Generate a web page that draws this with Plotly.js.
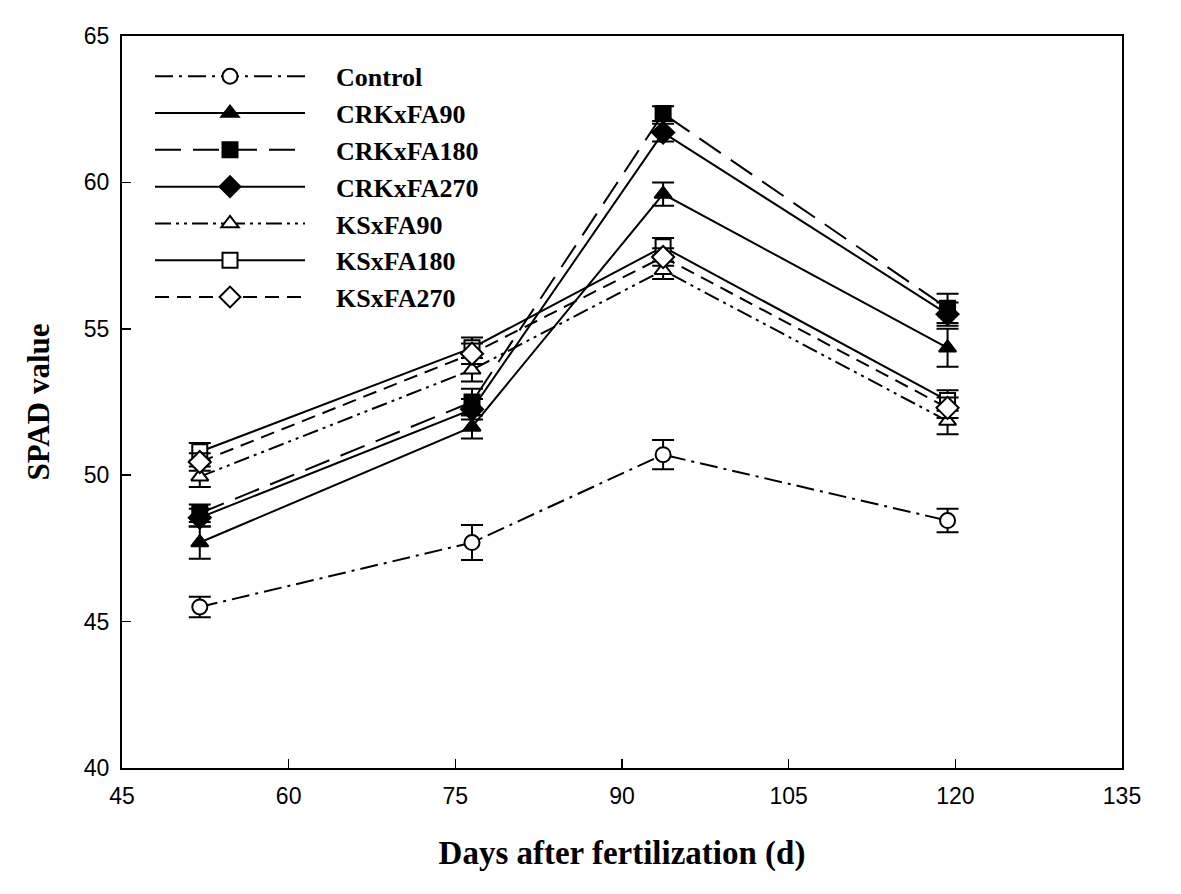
<!DOCTYPE html>
<html>
<head>
<meta charset="utf-8">
<script src="https://cdn.plot.ly/plotly-3.0.1.min.js"></script>
<style>html,body{margin:0;padding:0;background:#fff;}#chart{width:1181px;height:894px;}</style>
</head>
<body>
<div id="chart"></div>
<script>
// Days after fertilization (sampling dates)
const days = [52, 76.5, 93.7, 119.3];

const seriesNames = ["Control", "CRKxFA90", "CRKxFA180", "CRKxFA270", "KSxFA90", "KSxFA180", "KSxFA270"];

const control   = [45.5, 47.7, 50.7, 48.45];
const crk90     = [47.7, 51.65, 59.6, 54.35];
const crk180    = [48.7, 52.5, 62.35, 55.7];
const crk270    = [48.55, 52.25, 61.7, 55.5];
const ks90      = [49.95, 53.6, 57.0, 51.85];
const ks180     = [50.8, 54.35, 57.8, 52.55];
const ks270     = [50.45, 54.15, 57.45, 52.3];

const controlErr = [0.35, 0.6, 0.5, 0.4];
const crk90Err   = [0.55, 0.4, 0.4, 0.65];
const crk180Err  = [0.3, 0.45, 0.25, 0.5];
const crk270Err  = [0.3, 0.35, 0.3, 0.4];
const ks90Err    = [0.35, 0.4, 0.3, 0.45];
const ks180Err   = [0.3, 0.35, 0.3, 0.35];
const ks270Err   = [0.3, 0.35, 0.3, 0.35];

const values = [control, crk90, crk180, crk270, ks90, ks180, ks270];
const errors = [controlErr, crk90Err, crk180Err, crk270Err, ks90Err, ks180Err, ks270Err];

const styles = [
  {symbol: "circle-open",  dash: "18px,6px,3px,6px"},
  {symbol: "triangle-up",  dash: "solid"},
  {symbol: "square",       dash: "26px,12px"},
  {symbol: "diamond",      dash: "solid"},
  {symbol: "triangle-up-open", dash: "16px,5px,3px,5px,3px,5px"},
  {symbol: "square-open",  dash: "solid"},
  {symbol: "diamond-open", dash: "14px,8px"}
];

const NBSP = "\u00a0\u00a0\u00a0\u00a0";

const traces = seriesNames.map((name, i) => {
  const open = styles[i].symbol.indexOf("open") >= 0;
  return {
    type: "scatter",
    mode: "lines+markers",
    name: NBSP + name,
    legendgroup: name,
    x: days,
    y: values[i],
    line: {color: "#000", width: 2, dash: styles[i].dash},
    marker: {
      symbol: open ? styles[i].symbol.replace("-open", "") : styles[i].symbol,
      size: i === 3 || i === 6 ? 17 : 15,
      color: open ? "#fff" : "#000",
      line: {color: "#000", width: 2}
    },
    error_y: {type: "data", array: errors[i], visible: true, color: "#000", thickness: 2, width: 11}
  };
});

const layout = {
  width: 1181,
  height: 894,
  paper_bgcolor: "#fff",
  plot_bgcolor: "#fff",
  margin: {l: 122, r: 59, t: 36, b: 126},
  showlegend: true,
  legend: {
    x: 0.028, y: 0.977, xanchor: "left", yanchor: "top",
    bgcolor: "rgba(0,0,0,0)",
    font: {family: "Liberation Serif", size: 26, color: "#000", weight: "bold"},
    itemwidth: 150,
    traceorder: "grouped",
    tracegroupgap: 0
  },
  xaxis: {
    range: [45, 135],
    tickvals: [45, 60, 75, 90, 105, 120, 135],
    ticks: "inside", ticklen: 9, tickwidth: 1.5, tickcolor: "#000",
    showline: true, linecolor: "#000", linewidth: 2, mirror: true,
    showgrid: false, zeroline: false,
    ticklabelstandoff: 6,
    tickfont: {family: "Liberation Sans", size: 23, color: "#000"},
    title: {text: "Days after fertilization (d)", standoff: 33,
            font: {family: "Liberation Serif", size: 33, color: "#000", weight: "bold"}}
  },
  yaxis: {
    range: [40, 65],
    tickvals: [40, 45, 50, 55, 60, 65],
    ticks: "inside", ticklen: 9, tickwidth: 1.5, tickcolor: "#000",
    showline: true, linecolor: "#000", linewidth: 2, mirror: true,
    showgrid: false, zeroline: false,
    ticklabelstandoff: 6,
    tickfont: {family: "Liberation Sans", size: 23, color: "#000"},
    title: {text: "SPAD value", standoff: 25,
            font: {family: "Liberation Serif", size: 31, color: "#000", weight: "bold"}}
  }
};

Plotly.newPlot("chart", traces, layout, {displayModeBar: false, staticPlot: true});
</script>
</body>
</html>
